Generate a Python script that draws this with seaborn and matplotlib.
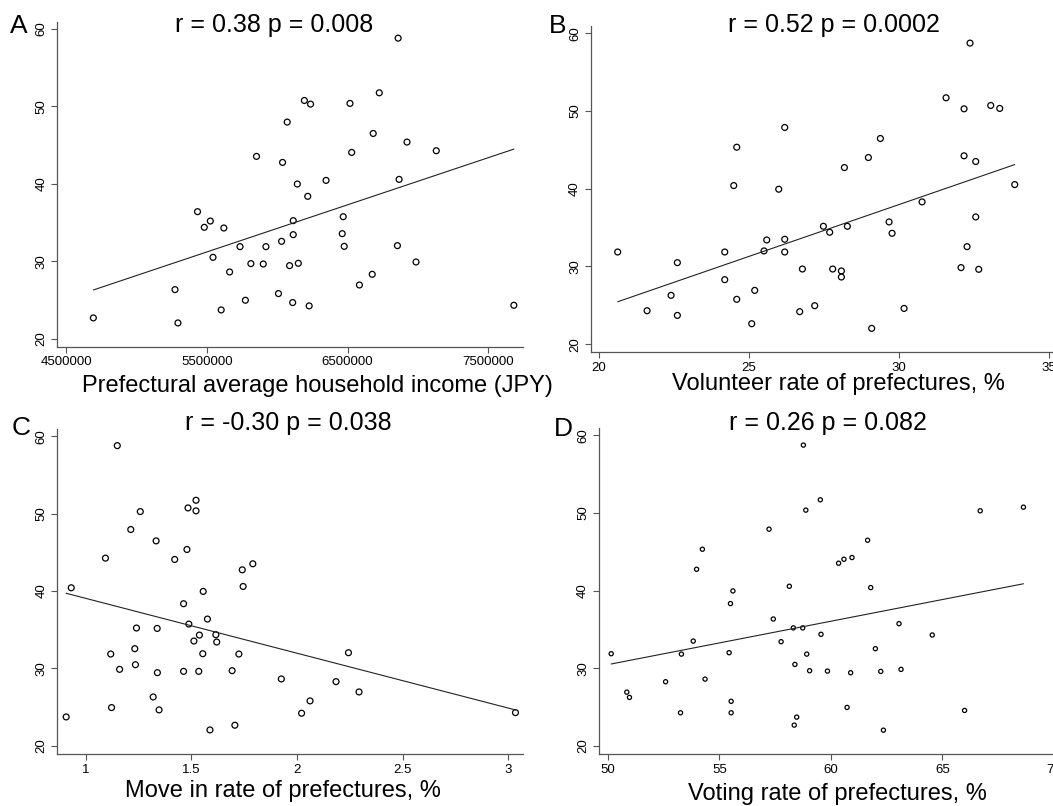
import matplotlib
matplotlib.use("Agg")
import matplotlib.pyplot as plt
import seaborn as sns

# Panel A: household income vs outcome rate
income = [4694000, 5274000, 5295000, 5434000, 5482000, 5525000, 5544000, 5602000, 5621000, 5662000,
          5736000, 5774000, 5813000, 5853000, 5901000, 5920000, 6009000, 6031000, 6038000, 6071000,
          6088000, 6110000, 6114000, 6114000, 6143000, 6150000, 6193000, 6217000, 6227000, 6237000,
          6347000, 6462000, 6469000, 6476000, 6517000, 6529000, 6584000, 6675000, 6682000, 6725000,
          6854000, 6859000, 6866000, 6922000, 6986000, 7130000, 7681000]
rate_a = [22.67, 26.32, 22.02, 36.39, 34.37, 35.18, 30.49, 23.70, 34.28, 28.60,
          31.87, 24.95, 29.68, 43.53, 29.63, 31.87, 25.81, 32.56, 42.75, 47.96,
          29.42, 24.65, 33.42, 35.23, 39.96, 29.72, 50.75, 38.37, 24.22, 50.28,
          40.43, 33.55, 35.74, 31.91, 50.37, 44.04, 26.92, 28.30, 46.49, 51.74,
          32.00, 58.80, 40.56, 45.38, 29.89, 44.26, 24.30]

# Panel B: volunteer rate
volunteer = [20.62, 21.60, 22.40, 22.61, 22.61, 24.19, 24.19, 24.49, 24.59, 24.59,
             25.09, 25.19, 25.50, 25.59, 25.99, 26.19, 26.19, 26.19, 26.69, 26.78,
             27.19, 27.48, 27.69, 27.79, 28.08, 28.08, 28.18, 28.28, 28.98, 29.09,
             29.38, 29.67, 29.77, 30.17, 30.77, 31.57, 32.07, 32.17, 32.17, 32.27,
             32.37, 32.56, 32.56, 32.66, 33.06, 33.36, 33.86]
rate_b = [31.86, 24.30, 26.28, 30.49, 23.70, 31.86, 28.30, 40.41, 45.35, 25.77,
          22.63, 26.92, 32.00, 33.41, 39.94, 47.89, 33.50, 31.86, 24.18, 29.67,
          24.95, 35.17, 34.40, 29.67, 29.42, 28.64, 42.73, 35.17, 44.02, 22.03,
          46.47, 35.73, 34.27, 24.60, 38.31, 51.71, 29.85, 50.29, 44.24, 32.55,
          58.75, 43.51, 36.37, 29.63, 50.72, 50.34, 40.54]

# Panel C: move in rate
move_in = [0.907, 0.931, 1.093, 1.118, 1.122, 1.149, 1.160, 1.213, 1.232, 1.235,
           1.240, 1.258, 1.319, 1.333, 1.338, 1.339, 1.347, 1.421, 1.463, 1.463,
           1.479, 1.484, 1.488, 1.512, 1.522, 1.522, 1.535, 1.538, 1.554, 1.556,
           1.576, 1.588, 1.616, 1.620, 1.693, 1.706, 1.725, 1.741, 1.745, 1.791,
           1.926, 2.022, 2.062, 2.185, 2.244, 2.294, 3.035]
rate_c = [23.74, 40.43, 44.26, 31.87, 24.95, 58.80, 29.89, 47.96, 32.56, 30.49,
          35.23, 50.28, 26.32, 46.49, 35.18, 29.46, 24.65, 44.09, 38.37, 29.63,
          45.38, 50.75, 35.74, 33.55, 50.37, 51.74, 29.63, 34.32, 31.91, 39.96,
          36.39, 22.06, 34.37, 33.42, 29.72, 22.67, 31.87, 42.75, 40.60, 43.53,
          28.65, 24.22, 25.81, 28.30, 32.04, 26.97, 24.30]

# Panel D: voting rate
voting = [50.15, 50.85, 50.97, 52.59, 53.26, 53.30, 53.83, 53.98, 54.24, 54.36,
          55.44, 55.50, 55.53, 55.53, 55.61, 57.23, 57.42, 57.77, 58.14, 58.32,
          58.36, 58.39, 58.47, 58.74, 58.77, 58.88, 58.92, 59.05, 59.53, 59.56,
          59.85, 60.35, 60.59, 60.73, 60.89, 60.95, 61.65, 61.79, 62.00, 62.24,
          62.36, 63.06, 63.15, 64.55, 66.00, 66.70, 68.64]
rate_d = [31.87, 26.92, 26.24, 28.26, 24.26, 31.82, 33.50, 42.75, 45.33, 28.60,
          32.00, 38.33, 25.74, 24.26, 39.96, 47.92, 36.34, 33.42, 40.56, 35.20,
          22.67, 30.49, 23.70, 35.20, 58.75, 50.37, 31.82, 29.68, 51.70, 34.37,
          29.63, 43.53, 44.04, 24.95, 29.42, 44.26, 46.49, 40.39, 32.52, 29.59,
          22.02, 35.74, 29.85, 34.28, 24.56, 50.28, 50.75]

titles = ["r = 0.38 p = 0.008", "r = 0.52 p = 0.0002", "r = -0.30 p = 0.038", "r = 0.26 p = 0.082"]
xlabels = ["Prefectural average household income (JPY)", "Volunteer rate of prefectures, %",
           "Move in rate of prefectures, %", "Voting rate of prefectures, %"]
letters = ["A", "B", "C", "D"]
yticks = [20, 30, 40, 50, 60]

sns.set_style("ticks")
plt.rcParams["font.family"] = ["Liberation Sans", "DejaVu Sans"]
plt.rcParams["text.color"] = "black"

W, H = 1053, 806
fig = plt.figure(figsize=(W / 100, H / 100), dpi=100)
fig.patch.set_facecolor("white")


def panel(box, x, y, xlim, xticks, xticklabels, size):
    left, top, right, bottom = box
    ax = fig.add_axes([left / W, 1 - bottom / H, (right - left) / W, (bottom - top) / H])
    sns.regplot(x=x, y=y, ax=ax, ci=None, truncate=True,
                scatter_kws=dict(s=size, facecolors="none", edgecolors="black",
                                 linewidths=0.9, alpha=1),
                line_kws=dict(color="#222222", lw=0.8))
    ax.set_xlim(*xlim)
    ax.set_ylim(18.95, 60.95)
    ax.set_xticks(xticks)
    ax.set_xticklabels(xticklabels)
    ax.set_yticks(yticks)
    ax.set_yticklabels([str(v) for v in yticks], rotation=90, va="center")
    ax.set_xlabel("")
    ax.set_ylabel("")
    for s in ["top", "right"]:
        ax.spines[s].set_visible(False)
    for s in ["left", "bottom"]:
        ax.spines[s].set_color("#555555")
        ax.spines[s].set_linewidth(0.9)
    ax.tick_params(length=4, width=0.8, color="#555555", labelsize=9.5,
                   labelcolor="black", pad=3)
    return ax


panel((57.3, 21.5, 523, 346.7), income, rate_a, (4.438e6, 7.746e6),
      [4500000, 5500000, 6500000, 7500000], ["4500000", "5500000", "6500000", "7500000"], 18)
panel((590.7, 26, 1060, 352.3), volunteer, rate_b, (19.72, 35.37),
      [20, 25, 30, 35], ["20", "25", "30", "35"], 18)
panel((57.3, 429, 523.3, 754), move_in, rate_c, (0.865, 3.072),
      [1, 1.5, 2, 2.5, 3], ["1", "1.5", "2", "2.5", "3"], 18)
panel((598.7, 428, 1060, 754), voting, rate_d, (49.59, 70.28),
      [50, 55, 60, 65, 70], ["50", "55", "60", "65", "70"], 9)

# titles, panel letters and axis titles placed in pixel positions
title_pos = [(274, 32), (834, 32), (288, 430), (828, 430)]
letter_pos = [(10, 33), (549, 33), (12, 435), (554, 436)]
xlabel_pos = [(317, 392), (838, 390), (283, 797), (837, 800)]
for i in range(4):
    tx, ty = title_pos[i]
    fig.text(tx / W, 1 - ty / H, titles[i], ha="center", va="baseline", fontsize=18, color="black")
    lx, ly = letter_pos[i]
    fig.text(lx / W, 1 - ly / H, letters[i], ha="left", va="baseline", fontsize=19, color="black")
    xx, xy = xlabel_pos[i]
    fig.text(xx / W, 1 - xy / H, xlabels[i], ha="center", va="baseline", fontsize=17, color="black")

fig.savefig("out.png", dpi=100)
